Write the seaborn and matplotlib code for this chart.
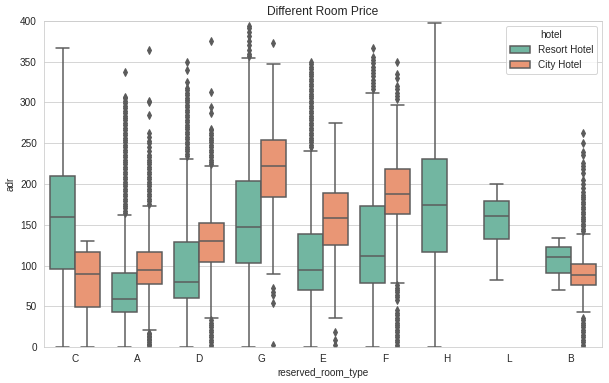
import numpy as np
import pandas as pd
import matplotlib
matplotlib.use("Agg")
import matplotlib.pyplot as plt
import seaborn as sns

# ---- data ----
room_types = ["C", "A", "D", "G", "E", "F", "H", "L", "B"]
hotels = ["Resort Hotel", "City Hotel"]

# box summary per (room, hotel): whisker low, q1, median, q3, whisker high
resort_stats = {
    "C": [0, 96, 160, 210, 367],
    "A": [0, 43, 59, 91, 162],
    "D": [0, 60.5, 80, 129, 231],
    "G": [0, 102.7, 147.6, 204, 355],
    "E": [0, 70, 94.5, 138.6, 241],
    "F": [0, 79, 112, 173, 312],
    "H": [0, 117, 174, 230.7, 398],
    "L": [82, 133, 161, 179.5, 200],
    "B": [70, 91, 111, 123, 134],
}
city_stats = {
    "C": [0, 49.5, 90, 116, 130],
    "A": [21, 77, 94.5, 116, 173],
    "D": [36, 104.7, 130.5, 152, 222.5],
    "G": [90, 183.7, 222, 254, 347],
    "E": [36, 125, 158.7, 188.6, 275],
    "F": [79, 162.8, 187.7, 219, 297],
    "B": [43, 76, 88, 102, 139],
}

# outliers (fliers) per (room, hotel)
resort_outliers = {
    "A": [164, 167, 170, 173, 176, 179, 182, 185, 188, 191, 194, 197, 200, 203,
          206, 209, 212, 215, 218, 221, 224, 227, 230, 233, 236, 239, 242, 245,
          248, 251, 254, 257, 260, 263, 266, 269, 272, 275, 278, 281, 284, 287,
          290, 293, 296, 299, 302, 305, 307, 337],
    "D": [234, 237, 240, 243, 246, 249, 252, 255, 258, 261, 264, 267, 270, 273,
          276, 279, 282, 285, 288, 291, 294, 297, 300, 303, 306, 309, 312, 315,
          318, 325, 340, 350],
    "G": [357, 360, 364, 370, 376, 381, 386, 391, 394],
    "E": [245, 248, 251, 254, 257, 260, 263, 266, 269, 272, 275, 278, 281, 284,
          287, 290, 293, 296, 299, 302, 305, 308, 311, 314, 317, 320, 323, 326,
          329, 332, 335, 338, 341, 344, 347, 350],
    "F": [316, 320, 324, 328, 332, 336, 340, 344, 348, 352, 356, 367],
}
city_outliers = {
    "A": [0, 2, 4, 6, 8, 10, 12, 14, 16, 17,
          176, 179, 182, 185, 188, 191, 194, 197, 200, 203, 206, 209, 212, 215,
          218, 221, 224, 227, 230, 233, 236, 240, 245, 250, 253, 258, 262, 285,
          300, 302, 365],
    "D": [0, 3, 6, 9, 12, 15, 18, 21, 24, 27, 30, 33,
          224, 227, 230, 233, 236, 239, 242, 245, 248, 251, 254, 257, 260, 263,
          266, 268, 287, 294, 313, 375],
    "G": [2, 54, 64, 68, 72, 373],
    "E": [2, 9, 19],
    "F": [0, 3, 6, 9, 12, 15, 18, 21, 24, 27, 30, 33, 36, 39, 42, 45,
          58, 61, 64, 67, 70, 73, 76,
          304, 308, 312, 316, 320, 330, 335, 350],
    "B": [0, 3, 6, 9, 12, 15, 18, 21, 24, 27, 30, 33, 36,
          142, 145, 148, 151, 154, 157, 160, 163, 166, 169, 172, 175, 178, 181,
          184, 187, 190, 195, 200, 205, 214, 218, 222, 226, 235, 239, 250, 263],
}


def group_values(stats, outliers):
    """Sample whose quartiles / whiskers / fliers reproduce the read summary."""
    lo, q1, med, q3, hi = stats
    n_out = len(outliers)
    m = 4 * n_out + 20
    below = [v for v in outliers if v < q1]
    above = [v for v in outliers if v > q3]
    vals = below + [lo] + [q1] * m + [med] * m + [q3] * m + [hi] + above
    return vals


rows = []
for room in room_types:
    if room in resort_stats:
        for v in group_values(resort_stats[room], resort_outliers.get(room, [])):
            rows.append((room, "Resort Hotel", v))
    if room in city_stats:
        for v in group_values(city_stats[room], city_outliers.get(room, [])):
            rows.append((room, "City Hotel", v))
df = pd.DataFrame(rows, columns=["reserved_room_type", "hotel", "adr"])

# ---- plotting ----
sns.set_style("whitegrid")
plt.rcParams["font.family"] = ["Liberation Sans", "DejaVu Sans"]

fig = plt.figure(figsize=(609 / 72, 383 / 72), dpi=72)
ax = fig.add_axes([44 / 609, 1 - 347 / 383, (602 - 44) / 609, (347 - 21) / 383])

gray = "#5b5b5b"
sns.boxplot(
    data=df, x="reserved_room_type", y="adr", hue="hotel",
    order=room_types, hue_order=hotels, palette="Set2", saturation=0.75,
    linecolor=gray, linewidth=1.5, ax=ax,
    flierprops=dict(marker="d", markerfacecolor=gray, markeredgecolor=gray,
                    markersize=5),
)

ax.set_ylim(0, 400)
ax.set_title("Different Room Price", fontsize=12)
ax.set_xlabel("reserved_room_type", fontsize=10)
ax.set_ylabel("adr", fontsize=10)
ax.tick_params(labelsize=10)
leg = ax.legend(title="hotel", loc="upper right", fontsize=10, title_fontsize=10)

fig.savefig("out.png", dpi=72)
